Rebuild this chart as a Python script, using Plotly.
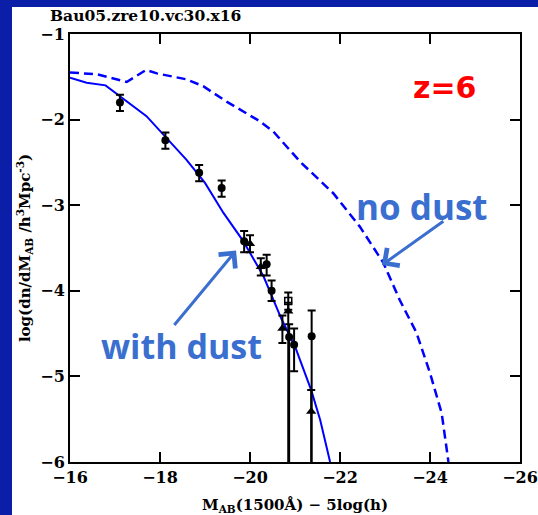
import plotly.graph_objects as go

# ---------------- data ----------------
dust_x = [-16.0, -16.37, -16.79, -17.70, -18.59, -19.0, -19.41, -19.85, -20.30, -20.70, -21.0, -21.36, -21.56, -21.78]
dust_y = [-1.51, -1.57, -1.60, -1.96, -2.47, -2.74, -3.09, -3.42, -3.83, -4.33, -4.65, -5.16, -5.51, -6.0]

nodust_x = [-16.0, -16.59, -17.26, -17.69, -17.93, -18.59, -18.96, -19.48, -20.22, -20.52, -21.11, -21.33,
            -21.85, -22.44, -22.96, -23.33, -23.70, -24.0, -24.26, -24.41]
nodust_y = [-1.45, -1.47, -1.56, -1.42, -1.46, -1.53, -1.61, -1.79, -2.02, -2.14, -2.49, -2.60,
            -2.86, -3.25, -3.67, -4.11, -4.49, -4.96, -5.43, -6.0]

circ_x = [-17.11, -18.12, -18.87, -19.37, -19.87, -20.37, -20.48, -20.87, -20.98, -21.37]
circ_y = [-1.80, -2.24, -2.62, -2.80, -3.42, -3.69, -4.00, -4.54, -4.63, -4.53]
circ_up = [0.09, 0.09, 0.09, 0.09, 0.12, 0.11, 0.12, 0.15, 0.19, 0.30]
circ_dn = [0.10, 0.10, 0.10, 0.10, 0.13, 0.13, 0.12, 3.0, 0.31, 3.0]

tri_x = [-20.0, -20.24, -20.72, -20.85, -21.36]
tri_y = [-3.45, -3.72, -4.44, -4.24, -5.41]
tri_up = [0.10, 0.10, 0.15, 0.10, 0.25]
tri_dn = [0.10, 0.10, 0.17, 3.0, 3.0]

sq_x = [-20.85]
sq_y = [-4.12]
sq_err = [0.10]

X_RANGE = [-16, -26]
Y_RANGE = [-6, -1]

BLUE_LINE = "#0000ff"
BLUE_TXT = "#3a6fd0"
BG_BLUE = "#0a1ea8"
SERIF = "DejaVu Serif"

fig = go.Figure()
fig.add_trace(go.Scatter(x=nodust_x, y=nodust_y, mode="lines",
                         line=dict(color=BLUE_LINE, width=2.5, dash="9px,5px"), name="no dust"))
fig.add_trace(go.Scatter(x=dust_x, y=dust_y, mode="lines",
                         line=dict(color=BLUE_LINE, width=2), name="with dust"))

eb = dict(type="data", symmetric=False, color="black", thickness=2, width=4)
fig.add_trace(go.Scatter(x=circ_x, y=circ_y, mode="markers",
                         marker=dict(symbol="circle", size=8, color="black"),
                         error_y=dict(eb, array=circ_up, arrayminus=circ_dn)))
fig.add_trace(go.Scatter(x=tri_x, y=tri_y, mode="markers",
                         marker=dict(symbol="triangle-up", size=9, color="black"),
                         error_y=dict(eb, array=tri_up, arrayminus=tri_dn)))
fig.add_trace(go.Scatter(x=sq_x, y=sq_y, mode="markers",
                         marker=dict(symbol="square-open", size=7, color="black", line=dict(width=1.5)),
                         error_y=dict(eb, array=sq_err, arrayminus=sq_err)))

L, R, T, B = 70, 18, 34, 53
W, H = 538, 515
pw, ph = W - L - R, H - T - B

def px(xp):
    return (xp - L) / pw

def py(yp):
    return (H - B - yp) / ph

# blue frame strips (left and top) of the slide background
fig.add_shape(type="rect", xref="paper", yref="paper",
              x0=px(-5), x1=px(12), y0=py(520), y1=py(-5),
              fillcolor=BG_BLUE, line=dict(width=0), layer="below")
fig.add_shape(type="rect", xref="paper", yref="paper",
              x0=px(-5), x1=px(545), y0=py(7), y1=py(-5),
              fillcolor=BG_BLUE, line=dict(width=0), layer="below")

axis_common = dict(ticks="inside", ticklen=10, tickwidth=2, tickcolor="black",
                   mirror="allticks", showline=True, linewidth=2, linecolor="black",
                   showgrid=False, zeroline=False, automargin=False,
                   tickfont=dict(family=SERIF, size=16, color="black", weight="bold"))

fig.update_layout(
    xaxis=dict(range=X_RANGE, tick0=-16, dtick=2, **axis_common,
               title=dict(text="M<sub>AB</sub>(1500Å) − 5log(h)", standoff=16,
                          font=dict(family=SERIF, size=15, color="black", weight="bold"))),
    yaxis=dict(range=Y_RANGE, tick0=-6, dtick=1, **axis_common,
               title=dict(text="log(dn/dM<sub>AB</sub> /h<sup>3</sup>Mpc<sup>-3</sup>)", standoff=6,
                          font=dict(family=SERIF, size=15, color="black", weight="bold"))),
)

# title top-left
fig.add_annotation(xref="paper", yref="paper", x=px(48), y=py(15.5), xanchor="left", yanchor="middle",
                   text="Bau05.zre10.vc30.x16", showarrow=False,
                   font=dict(family=SERIF, size=15.5, color="black", weight="bold"))

# labels
fig.add_annotation(x=-24.32, y=-1.62, text="z=6", showarrow=False,
                   font=dict(family="DejaVu Sans", size=30, color="#ff0000", weight="bold"))
fig.add_annotation(x=-23.83, y=-3.015, text="no dust", showarrow=False,
                   font=dict(family="Open Sans", size=35, color=BLUE_TXT, weight="bold"))
fig.add_annotation(x=-18.47, y=-4.64, text="with dust", showarrow=False,
                   font=dict(family="Open Sans", size=34, color=BLUE_TXT, weight="bold"))

# arrows
fig.add_annotation(x=-19.69, y=-3.53, ax=-63, ay=76, text="", showarrow=True,
                   arrowhead=4, arrowsize=1.4, arrowwidth=3, arrowcolor=BLUE_TXT)
fig.add_annotation(x=-22.93, y=-3.70, ax=63, ay=-45, text="", showarrow=True,
                   arrowhead=4, arrowsize=1.4, arrowwidth=3, arrowcolor=BLUE_TXT)

fig.update_layout(width=W, height=H, margin=dict(l=L, r=R, t=T, b=B),
                  paper_bgcolor="white", plot_bgcolor="white", showlegend=False,
                  font=dict(family=SERIF, size=16, color="black"))

fig.write_html("out.html", config={"displayModeBar": False},
               post_script="document.body.style.margin='0';document.body.style.overflow='hidden';")
